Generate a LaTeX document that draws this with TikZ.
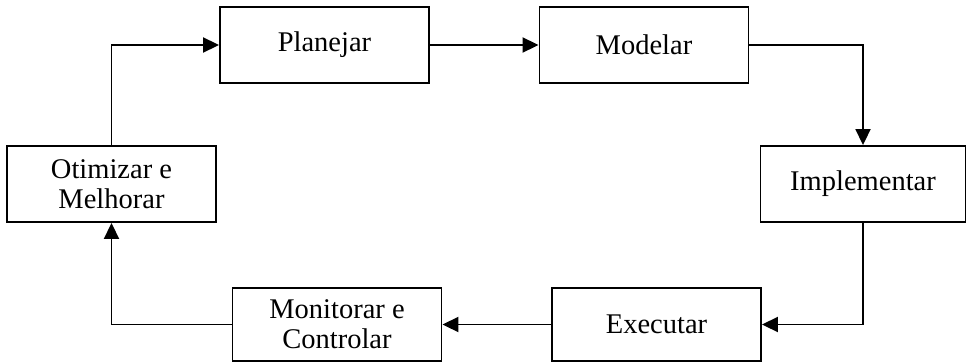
\documentclass[tikz,border=0pt]{standalone}
\usepackage{fontspec}
\setmainfont{Liberation Serif}
\usetikzlibrary{arrows.meta}
\begin{document}
\begin{tikzpicture}[x=1pt,y=-1pt,
  stagebox/.style={draw=black,line width=1.9pt,fill=white,inner sep=0pt,
    align=center,font=\fontsize{28.5}{30}\selectfont,
    minimum width=209pt,minimum height=76pt},
  flow/.style={line width=1.9pt,-{Triangle[length=16pt,width=15pt]}}]
\useasboundingbox (0,0) rectangle (968,362);
\node[stagebox] (pl) at (324.5,45) {Planejar};
\node[stagebox] (mo) at (644,45) {Modelar};
\node[stagebox,minimum width=205pt] (im) at (863,184) {Implementar};
\node[stagebox,minimum height=73pt] (ex) at (656.5,324.5) {Executar};
\node[stagebox,minimum height=73pt] (mc) at (337,324.5) {Monitorar e\\Controlar};
\node[stagebox] (ot) at (111.5,184) {Otimizar e\\Melhorar};
\draw[flow] (pl.east) -- (mo.west);
\draw[flow] (mo.east) -| (im.north);
\draw[flow] (im.south) |- (ex.east);
\draw[flow] (ex.west) -- (mc.east);
\draw[flow] (mc.west) -| (ot.south);
\draw[flow] (ot.north) |- (pl.west);
\end{tikzpicture}
\end{document}
